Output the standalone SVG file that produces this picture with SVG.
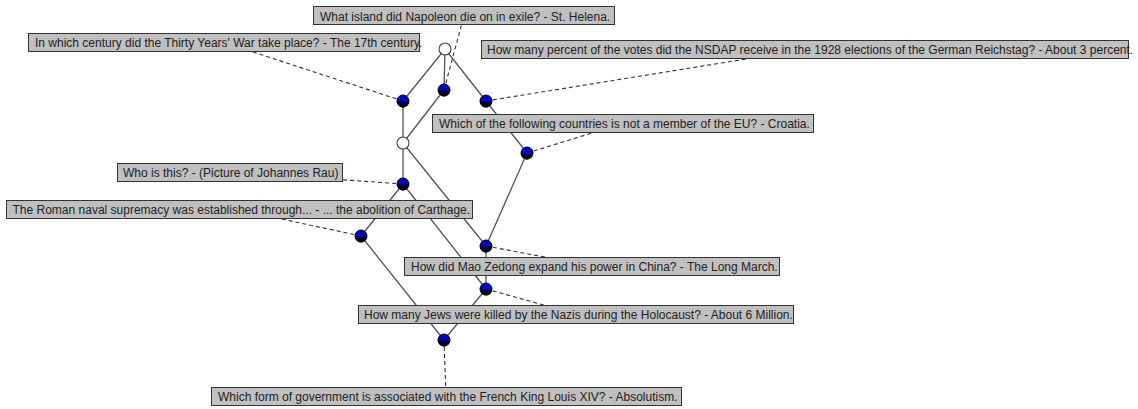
<svg xmlns="http://www.w3.org/2000/svg" xmlns:xlink="http://www.w3.org/1999/xlink" width="1138" height="409" viewBox="0 0 1138 409">
<style>
.edge{stroke:#555;stroke-width:1.3;fill:none}
.dash{stroke:#333;stroke-width:1.1;stroke-dasharray:4,3;fill:none}
.lbl rect{fill:#c0c0c0;stroke:#333;stroke-width:1}
.lbl text{font-family:"Liberation Sans",Arial,sans-serif;font-size:12px;fill:#222}
.wn{fill:#fff;stroke:#444;stroke-width:1.1}
</style>
<defs>
<g id="bn">
<circle r="6" fill="#0000e6"/>
<path d="M-6,0.5 A6,6 0 0 0 6,0.5 Z" fill="#000"/>
<circle r="6" fill="none" stroke="#000" stroke-width="1"/>
</g>
</defs>
<rect width="1138" height="409" fill="#fff"/>
<g id="connectors">
<line class="edge" x1="445" y1="49" x2="403" y2="101"/>
<line class="edge" x1="445" y1="49" x2="444" y2="90"/>
<line class="edge" x1="445" y1="49" x2="486" y2="101"/>
<line class="edge" x1="403" y1="101" x2="403" y2="143"/>
<line class="edge" x1="444" y1="90" x2="403" y2="143"/>
<line class="edge" x1="486" y1="101" x2="527" y2="153"/>
<line class="edge" x1="403" y1="143" x2="403" y2="184"/>
<line class="edge" x1="403" y1="143" x2="486" y2="246"/>
<line class="edge" x1="527" y1="153" x2="486" y2="246"/>
<line class="edge" x1="403" y1="184" x2="361" y2="236"/>
<line class="edge" x1="403" y1="184" x2="486" y2="289"/>
<line class="edge" x1="486" y1="246" x2="486" y2="289"/>
<line class="edge" x1="361" y1="236" x2="444" y2="340"/>
<line class="edge" x1="486" y1="289" x2="444" y2="340"/>
<line class="dash" x1="444" y1="90" x2="464" y2="15.5"/>
<line class="dash" x1="403" y1="101" x2="224" y2="42.5"/>
<line class="dash" x1="486" y1="101" x2="805" y2="49.5"/>
<line class="dash" x1="527" y1="153" x2="623" y2="123.5"/>
<line class="dash" x1="403" y1="184" x2="230" y2="172"/>
<line class="dash" x1="361" y1="236" x2="237" y2="209.5"/>
<line class="dash" x1="486" y1="246" x2="592" y2="266"/>
<line class="dash" x1="486" y1="289" x2="576" y2="314"/>
<line class="dash" x1="444" y1="340" x2="446" y2="396"/>
</g>
<g id="node-top"><circle class="wn" cx="445" cy="49" r="6"/></g>
<g id="node-a"><use xlink:href="#bn" x="403" y="101"/></g>
<g id="node-b"><use xlink:href="#bn" x="444" y="90"/></g>
<g id="node-c"><use xlink:href="#bn" x="486" y="101"/></g>
<g id="node-w2"><circle class="wn" cx="403" cy="143" r="6"/></g>
<g id="node-d"><use xlink:href="#bn" x="527" y="153"/></g>
<g id="node-e"><use xlink:href="#bn" x="403" y="184"/></g>
<g id="node-f"><use xlink:href="#bn" x="361" y="236"/></g>
<g id="node-g"><use xlink:href="#bn" x="486" y="246"/></g>
<g id="node-h"><use xlink:href="#bn" x="486" y="289"/></g>
<g id="node-i"><use xlink:href="#bn" x="444" y="340"/></g>
<g id="label-napoleon" class="lbl"><rect x="313.5" y="6.5" width="301" height="18"/><text x="320" y="20.5">What island did Napoleon die on in exile? - St. Helena.</text></g>
<g id="label-thirty" class="lbl"><rect x="28.5" y="33.5" width="391" height="18"/><text x="35" y="47">In which century did the Thirty Years' War take place? - The 17th century.</text></g>
<g id="label-nsdap" class="lbl"><rect x="481.5" y="40.5" width="647" height="18"/><text x="487" y="54">How many percent of the votes did the NSDAP receive in the 1928 elections of the German Reichstag? - About 3 percent.</text></g>
<g id="label-eu" class="lbl"><rect x="432.5" y="114.5" width="381" height="18"/><text x="439" y="128">Which of the following countries is not a member of the EU? - Croatia.</text></g>
<g id="label-rau" class="lbl"><rect x="117.5" y="163.5" width="225" height="18"/><text x="123" y="177">Who is this? - (Picture of Johannes Rau)</text></g>
<g id="label-roman" class="lbl"><rect x="6.5" y="200.5" width="466" height="18"/><text x="12.5" y="214">The Roman naval supremacy was established through... - ... the abolition of Carthage.</text></g>
<g id="label-mao" class="lbl"><rect x="404.5" y="257.5" width="375" height="18"/><text x="411" y="271">How did Mao Zedong expand his power in China? - The Long March.</text></g>
<g id="label-holocaust" class="lbl"><rect x="358.5" y="305.5" width="435" height="18"/><text x="364" y="319">How many Jews were killed by the Nazis during the Holocaust? - About 6 Million.</text></g>
<g id="label-absolutism" class="lbl"><rect x="211.5" y="387.5" width="470" height="18"/><text x="218" y="401">Which form of government is associated with the French King Louis XIV? - Absolutism.</text></g>
</svg>
